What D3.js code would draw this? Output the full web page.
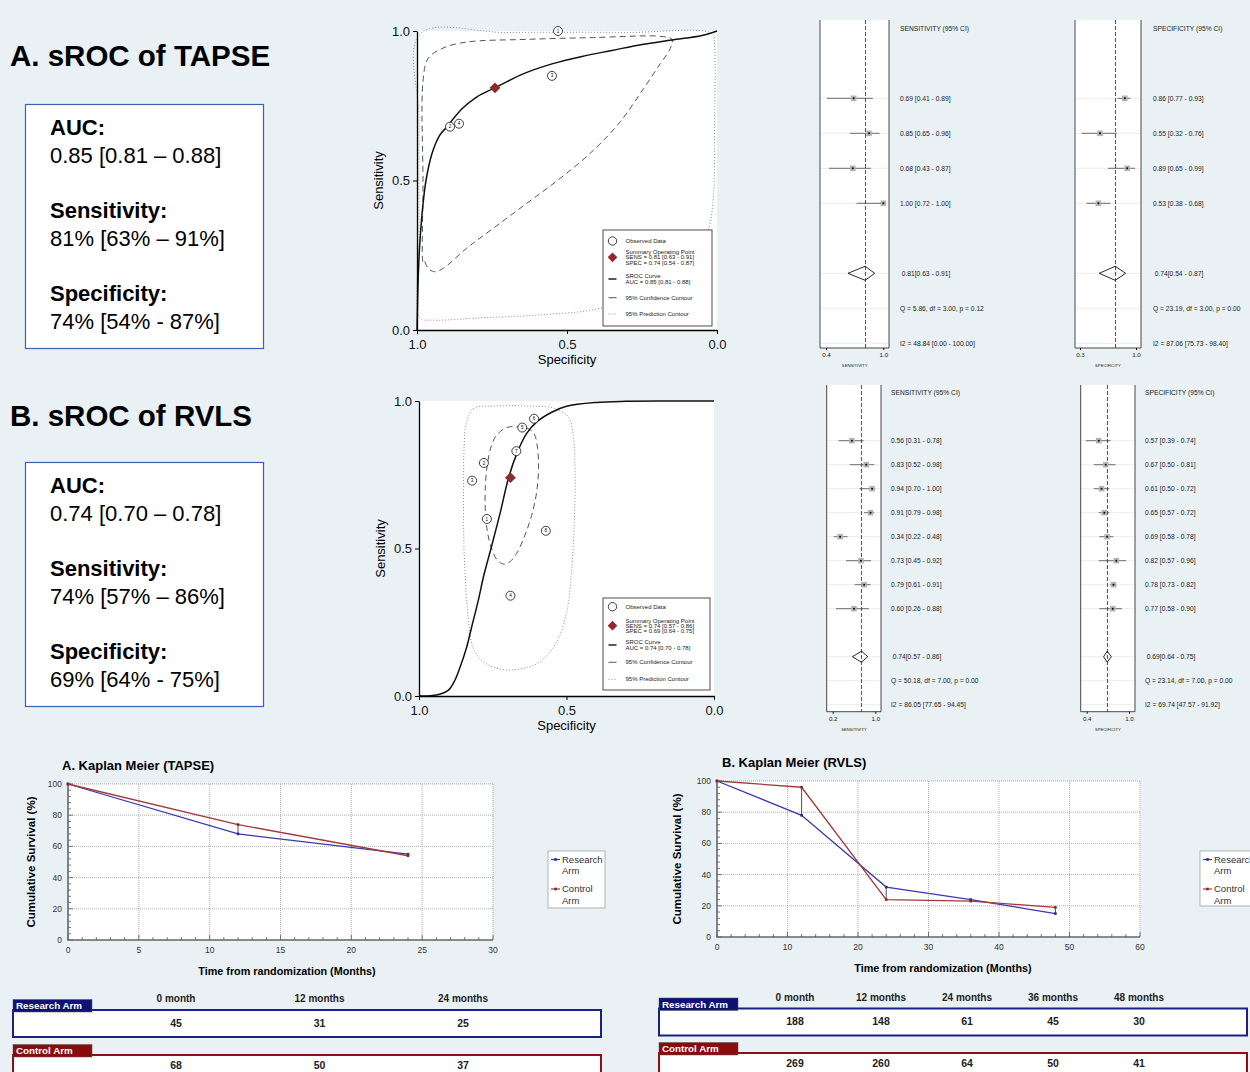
<!DOCTYPE html>
<html>
<head>
<meta charset="utf-8">
<title>sROC and Kaplan Meier</title>
<script src="https://cdn.jsdelivr.net/npm/d3@7"></script>
<style>
  body { margin: 0; background: #e9f1f4; }
  svg { display: block; font-family: "Liberation Sans", Arial, sans-serif; }
</style>
</head>
<body>
<svg width="1250" height="1072" id="mainsvg"></svg>
<script>
// ---------- data ----------
const summaryLabels = ['AUC:', 'Sensitivity:', 'Specificity:'];
const summaryA = ['0.85 [0.81 \u2013 0.88]', '81% [63% \u2013 91%]', '74% [54% - 87%]'];
const summaryB = ['0.74 [0.70 \u2013 0.78]', '74% [57% \u2013 86%]', '69% [64% - 75%]'];

// sROC A (TAPSE)
const obsSpecA = [0.53, 0.89, 0.55, 0.86];
const obsSensA = [1.00, 0.68, 0.85, 0.69];
const obsLabelA = ['1', '2', '3', '4'];
const sumPointA = [0.74, 0.81];
const curveSpecA = [1, 0.995, 0.99, 0.98, 0.97, 0.95, 0.925, 0.9, 0.85, 0.8, 0.74, 0.65, 0.55, 0.45, 0.35, 0.25, 0.15, 0.05, 0];
const curveSensA = [0, 0.2, 0.3, 0.42, 0.5, 0.59, 0.65, 0.68, 0.74, 0.78, 0.81, 0.855, 0.89, 0.915, 0.935, 0.955, 0.97, 0.985, 1];
const confSpecA = [0.98, 0.98, 0.98, 0.963, 0.913, 0.835, 0.635, 0.412, 0.189, 0.15, 0.156, 0.189, 0.245, 0.323, 0.412, 0.523, 0.635, 0.746, 0.835, 0.913, 0.941, 0.963, 0.977];
const confSensA = [0.228, 0.496, 0.83, 0.908, 0.943, 0.963, 0.972, 0.978, 0.982, 0.972, 0.941, 0.891, 0.807, 0.696, 0.601, 0.507, 0.423, 0.34, 0.273, 0.206, 0.195, 0.206, 0.234];
const predSpecA = [0.99, 0.7, 0.3, 0.015, 0.008, 0.008, 0.012, 0.03, 0.1, 0.25, 0.4, 0.6, 0.8, 0.95, 0.99, 0.993, 0.993];
const predSensA = [0.99, 0.995, 0.995, 0.99, 0.95, 0.7, 0.45, 0.33, 0.2, 0.12, 0.07, 0.05, 0.04, 0.033, 0.04, 0.3, 0.7];
const legendA = ['Observed Data', 'Summary Operating Point', 'SENS = 0.81 [0.63 - 0.91]', 'SPEC = 0.74 [0.54 - 0.87]',
  'SROC Curve', 'AUC = 0.85 [0.81 - 0.88]', '95% Confidence Contour', '95% Prediction Contour'];

// sROC B (RVLS)
const obsSpecB = [0.61, 0.65, 0.67, 0.78, 0.82, 0.77, 0.57, 0.69];
const obsSensB = [0.94, 0.91, 0.83, 0.79, 0.73, 0.60, 0.56, 0.34];
const obsLabelB = ['6', '5', '7', '2', '3', '1', '8', '4'];
const sumPointB = [0.69, 0.74];
const curveSpecB = [1, 0.96, 0.93, 0.9, 0.88, 0.86, 0.84, 0.82, 0.8, 0.78, 0.756, 0.725, 0.695, 0.665, 0.635, 0.6, 0.55, 0.5, 0.4, 0.3, 0.15, 0];
const curveSensB = [0, 0.001, 0.006, 0.02, 0.05, 0.1, 0.16, 0.24, 0.32, 0.41, 0.5, 0.62, 0.745, 0.83, 0.89, 0.93, 0.962, 0.982, 0.995, 0.999, 1, 1];
const confSpecB = [0.737, 0.703, 0.669, 0.635, 0.61, 0.598, 0.595, 0.601, 0.618, 0.641, 0.669, 0.692, 0.712, 0.734, 0.754, 0.768, 0.775, 0.775, 0.767, 0.754];
const confSensB = [0.884, 0.91, 0.913, 0.909, 0.889, 0.839, 0.771, 0.692, 0.613, 0.545, 0.483, 0.455, 0.447, 0.46, 0.5, 0.556, 0.624, 0.714, 0.793, 0.85];
const predSpecB = [0.841, 0.816, 0.748, 0.635, 0.545, 0.494, 0.477, 0.471, 0.473, 0.482, 0.499, 0.533, 0.59, 0.658, 0.725, 0.782, 0.816, 0.833, 0.847, 0.849, 0.847];
const predSensB = [0.918, 0.974, 0.983, 0.983, 0.976, 0.946, 0.884, 0.771, 0.602, 0.432, 0.286, 0.184, 0.116, 0.091, 0.091, 0.116, 0.161, 0.263, 0.489, 0.714, 0.849];
const legendB = ['Observed Data', 'Summary Operating Point', 'SENS = 0.74 [0.57 - 0.86]', 'SPEC = 0.69 [0.64 - 0.75]',
  'SROC Curve', 'AUC = 0.74 [0.70 - 0.78]', '95% Confidence Contour', '95% Prediction Contour'];

// forest plots
const sensEstA = [0.69, 0.85, 0.68, 1.00], sensLoA = [0.41, 0.65, 0.43, 0.72], sensHiA = [0.89, 0.96, 0.87, 1.00];
const sensPoolA = [0.81, 0.63, 0.91];
const sensStatsA = ['Q =  5.86, df = 3.00, p =  0.12', 'I2 = 48.84 [0.00 - 100.00]'];
const specEstA = [0.86, 0.55, 0.89, 0.53], specLoA = [0.77, 0.32, 0.65, 0.38], specHiA = [0.93, 0.76, 0.99, 0.68];
const specPoolA = [0.74, 0.54, 0.87];
const specStatsA = ['Q = 23.19, df = 3.00, p =  0.00', 'I2 = 87.06 [75.73 - 98.40]'];

const sensEstB = [0.56, 0.83, 0.94, 0.91, 0.34, 0.73, 0.79, 0.60];
const sensLoB = [0.31, 0.52, 0.70, 0.79, 0.22, 0.45, 0.61, 0.26];
const sensHiB = [0.78, 0.98, 1.00, 0.98, 0.48, 0.92, 0.91, 0.88];
const sensPoolB = [0.74, 0.57, 0.86];
const sensStatsB = ['Q = 50.18, df = 7.00, p =  0.00', 'I2 = 86.05 [77.65 - 94.45]'];
const specEstB = [0.57, 0.67, 0.61, 0.65, 0.69, 0.82, 0.78, 0.77];
const specLoB = [0.39, 0.50, 0.50, 0.57, 0.58, 0.57, 0.73, 0.58];
const specHiB = [0.74, 0.81, 0.72, 0.72, 0.78, 0.96, 0.82, 0.90];
const specPoolB = [0.69, 0.64, 0.75];
const specStatsB = ['Q = 23.14, df = 7.00, p =  0.00', 'I2 = 69.74 [47.57 - 91.92]'];

// Kaplan Meier
const kmMonthsA = [0, 12, 24];
const kmResearchA = [100, 68, 55];
const kmControlA = [100, 74, 54];
const kmMonthsB = [0, 12, 24, 36, 48];
const kmResearchB = [100, 78, 32, 24, 15];
const kmControlB = [100, 96, 24, 23, 19];

// numbers at risk
const riskHeadA = ['0 month', '12 months', '24 months'];
const riskResearchA = [45, 31, 25];
const riskControlA = [68, 50, 37];
const riskHeadB = ['0 month', '12 months', '24 months', '36 months', '48 months'];
const riskResearchB = [188, 148, 61, 45, 30];
const riskControlB = [269, 260, 64, 50, 41];

// ---------- drawing ----------
const svg = d3.select('#mainsvg');
const width = +svg.attr('width');
const height = +svg.attr('height');
svg.append('rect').attr('width', width).attr('height', height).attr('fill', '#e9f1f4');

const blue = '#3939b0', red = '#a23a3c', diamondRed = '#8e2a30';
const f2 = d3.format('.2f');

// left summary boxes
function drawSummary(title, titleY, boxTop, rowY, values) {
    svg.append('text').attr('x', 10).attr('y', titleY)
        .attr('font-size', 29.5).attr('font-weight', 'bold').text(title);
    svg.append('rect').attr('x', 25.5).attr('y', boxTop).attr('width', 238).attr('height', 244)
        .attr('fill', '#fff').attr('stroke', '#3d62ad').attr('stroke-width', 1.2);
    summaryLabels.forEach((lab, i) => {
        svg.append('text').attr('x', 50).attr('y', rowY + i * 83)
            .attr('font-size', 22).attr('font-weight', 'bold').text(lab);
        svg.append('text').attr('x', 50).attr('y', rowY + i * 83 + 28)
            .attr('font-size', 22).text(values[i]);
    });
}
drawSummary('A. sROC of TAPSE', 65.5, 104.5, 135, summaryA);
drawSummary('B. sROC of RVLS', 425.5, 462.5, 493, summaryB);

// sROC panels
function drawSroc(c) {
    const x = d3.scaleLinear().domain([1, 0]).range([c.left, c.right]);
    const y = d3.scaleLinear().domain([0, 1]).range([c.bottom, c.top]);
    const g = svg.append('g');
    g.append('rect').attr('x', c.left).attr('y', c.top)
        .attr('width', c.right - c.left).attr('height', c.bottom - c.top).attr('fill', '#fff');

    const closed = d3.line().x(d => x(d[0])).y(d => y(d[1])).curve(d3.curveCatmullRomClosed.alpha(0.5));
    const open = d3.line().x(d => x(d[0])).y(d => y(d[1])).curve(d3.curveCatmullRom.alpha(0.5));

    g.append('path').datum(d3.zip(c.predSpec, c.predSens)).attr('d', closed)
        .attr('fill', 'none').attr('stroke', '#8c8c8c').attr('stroke-width', 1).attr('stroke-dasharray', '1,2');
    g.append('path').datum(d3.zip(c.confSpec, c.confSens)).attr('d', closed)
        .attr('fill', 'none').attr('stroke', '#555').attr('stroke-width', 1).attr('stroke-dasharray', '6,4');
    g.append('path').datum(d3.zip(c.curveSpec, c.curveSens)).attr('d', open)
        .attr('fill', 'none').attr('stroke', '#111').attr('stroke-width', 1.5);

    const pts = d3.zip(c.obsSpec, c.obsSens, c.obsLabel);
    g.selectAll('.obs').data(pts).join('circle').attr('class', 'obs')
        .attr('cx', d => x(d[0])).attr('cy', d => y(d[1])).attr('r', 4.5)
        .attr('fill', '#fff').attr('stroke', '#111').attr('stroke-width', 0.8);
    g.selectAll('.obsLab').data(pts).join('text').attr('class', 'obsLab')
        .attr('x', d => x(d[0])).attr('y', d => y(d[1]) + 1.6)
        .attr('text-anchor', 'middle').attr('font-size', 4.5).text(d => d[2]);

    g.append('path').attr('d', d3.symbol(d3.symbolDiamond2, 75)())
        .attr('transform', `translate(${x(c.sumPoint[0])},${y(c.sumPoint[1])})`).attr('fill', diamondRed);

    const yAxis = d3.axisLeft(y).tickValues([0, 0.5, 1]).tickFormat(d3.format('.1f')).tickSize(4).tickSizeOuter(0).tickPadding(3);
    const xAxis = d3.axisBottom(x).tickValues([1, 0.5, 0]).tickFormat(d3.format('.1f')).tickSize(4).tickSizeOuter(0).tickPadding(6);
    const ya = g.append('g').attr('transform', `translate(${c.left},0)`).call(yAxis);
    const xa = g.append('g').attr('transform', `translate(0,${c.bottom})`).call(xAxis);
    [ya, xa].forEach(a => {
        a.select('.domain').attr('stroke', '#000').attr('stroke-width', 1.3);
        a.selectAll('.tick text').attr('font-size', 13).attr('fill', '#111')
            .attr('font-family', '"Liberation Sans", Arial, sans-serif');
    });
    g.append('text').attr('x', (c.left + c.right) / 2).attr('y', c.xTitleY)
        .attr('text-anchor', 'middle').attr('font-size', 13).text('Specificity');
    g.append('text').attr('transform', `translate(${c.yTitleX},${(c.top + c.bottom) / 2}) rotate(-90)`)
        .attr('text-anchor', 'middle').attr('font-size', 13).text('Sensitivity');

    // legend
    const L = c.legend;
    const lg = g.append('g');
    lg.append('rect').attr('x', L.x).attr('y', L.y).attr('width', L.w).attr('height', L.h)
        .attr('fill', '#fff').attr('stroke', '#222').attr('stroke-width', 0.8);
    const sx = L.x + 9.5, tx = L.x + 22.5, fs = 6;
    const line = (yy, txt) => lg.append('text').attr('x', tx).attr('y', yy + 2.1).attr('font-size', fs).attr('fill', '#222').text(txt);
    lg.append('circle').attr('cx', sx).attr('cy', L.rows[0]).attr('r', 4.2).attr('fill', '#fff').attr('stroke', '#111').attr('stroke-width', 0.8);
    line(L.rows[0], c.legendText[0]);
    lg.append('path').attr('d', d3.symbol(d3.symbolDiamond2, 60)()).attr('transform', `translate(${sx},${L.rows[1]})`).attr('fill', diamondRed);
    line(L.rows[1] - 5.2, c.legendText[1]);
    line(L.rows[1], c.legendText[2]);
    line(L.rows[1] + 5.2, c.legendText[3]);
    lg.append('line').attr('x1', sx - 4).attr('x2', sx + 4).attr('y1', L.rows[2]).attr('y2', L.rows[2]).attr('stroke', '#111').attr('stroke-width', 1.4);
    line(L.rows[2] - 3.5, c.legendText[4]);
    line(L.rows[2] + 3, c.legendText[5]);
    lg.append('line').attr('x1', sx - 4).attr('x2', sx + 4).attr('y1', L.rows[3]).attr('y2', L.rows[3]).attr('stroke', '#555').attr('stroke-width', 1);
    line(L.rows[3], c.legendText[6]);
    lg.append('line').attr('x1', sx - 4).attr('x2', sx + 4).attr('y1', L.rows[4]).attr('y2', L.rows[4]).attr('stroke', '#8c8c8c').attr('stroke-width', 1).attr('stroke-dasharray', '1,2');
    line(L.rows[4], c.legendText[7]);
}

drawSroc({
    left: 417, right: 717, top: 31, bottom: 330, xTitleY: 364, yTitleX: 382.5,
    obsSpec: obsSpecA, obsSens: obsSensA, obsLabel: obsLabelA, sumPoint: sumPointA,
    curveSpec: curveSpecA, curveSens: curveSensA, confSpec: confSpecA, confSens: confSensA,
    predSpec: predSpecA, predSens: predSensA, legendText: legendA,
    legend: { x: 603, y: 230, w: 109, h: 96, rows: [241, 257.3, 279, 297.7, 314] }
});
drawSroc({
    left: 419, right: 714, top: 401, bottom: 696, xTitleY: 729.5, yTitleX: 384.5,
    obsSpec: obsSpecB, obsSens: obsSensB, obsLabel: obsLabelB, sumPoint: sumPointB,
    curveSpec: curveSpecB, curveSens: curveSensB, confSpec: confSpecB, confSens: confSensB,
    predSpec: predSpecB, predSens: predSensB, legendText: legendB,
    legend: { x: 603, y: 598, w: 107, h: 92, rows: [606.7, 625.7, 645, 662.3, 679.3] }
});

// forest plots
function drawForest(c) {
    const x = d3.scaleLinear().domain(c.ticks).range(c.tickPx);
    const n = c.est.length;
    const row = i => c.row0 + i * c.step;
    const g = svg.append('g');
    g.append('rect').attr('x', c.left).attr('y', c.top).attr('width', c.right - c.left)
        .attr('height', c.bottom - c.top).attr('fill', '#fff');
    const gridRows = d3.range(n).concat([n + 1, n + 2, n + 3]);
    g.selectAll('.grid').data(gridRows).join('line').attr('class', 'grid')
        .attr('x1', c.left).attr('x2', c.right).attr('y1', row).attr('y2', row)
        .attr('stroke', '#e4e8ea').attr('stroke-width', 0.8);
    [c.left, c.right].forEach(px => g.append('line').attr('x1', px).attr('x2', px)
        .attr('y1', c.top).attr('y2', c.bottom).attr('stroke', '#333').attr('stroke-width', 0.9));
    const px0 = Math.round(x(c.pool[0])) + 0.5;
    g.append('line').attr('x1', px0).attr('x2', px0).attr('y1', c.top).attr('y2', c.bottom)
        .attr('stroke', '#d0223f').attr('stroke-width', 1.1).attr('stroke-dasharray', '4,2');

    const rows = d3.range(n).map(i => [c.est[i], c.lo[i], c.hi[i], i]);
    g.selectAll('.ci').data(rows).join('line').attr('class', 'ci')
        .attr('x1', d => x(d[1])).attr('x2', d => x(d[2])).attr('y1', d => row(d[3])).attr('y2', d => row(d[3]))
        .attr('stroke', '#333').attr('stroke-width', 0.7);
    g.selectAll('.sq').data(rows).join('rect').attr('class', 'sq')
        .attr('x', d => x(d[0]) - 2.8).attr('y', d => row(d[3]) - 2.8).attr('width', 5.6).attr('height', 5.6)
        .attr('fill', '#b4b4b4');
    g.selectAll('.dot').data(rows).join('circle').attr('class', 'dot')
        .attr('cx', d => x(d[0])).attr('cy', d => row(d[3])).attr('r', 1).attr('fill', '#000');

    const yd = row(n + 1), hh = c.dh;
    g.append('path')
        .attr('d', `M${x(c.pool[1])},${yd}L${x(c.pool[0])},${yd - hh}L${x(c.pool[2])},${yd}L${x(c.pool[0])},${yd + hh}Z`)
        .attr('fill', 'none').attr('stroke', '#111').attr('stroke-width', 0.9);

    const fs = 6.7;
    g.append('text').attr('x', c.textX).attr('y', row(-2) + 2.3).attr('font-size', fs).attr('fill', '#222').text(c.header);
    g.selectAll('.val').data(rows).join('text').attr('class', 'val')
        .attr('x', c.textX).attr('y', d => row(d[3]) + 2.3).attr('font-size', fs).attr('fill', '#222')
        .text(d => `${f2(d[0])} [${f2(d[1])} - ${f2(d[2])}]`);
    g.append('text').attr('x', c.textX + 1.7).attr('y', yd + 2.3).attr('font-size', fs).attr('fill', '#222')
        .text(`${f2(c.pool[0])}[${f2(c.pool[1])} - ${f2(c.pool[2])}]`);
    g.append('text').attr('x', c.textX).attr('y', row(n + 2) + 2.3).attr('font-size', fs).attr('fill', '#222').text(c.stats[0]);
    g.append('text').attr('x', c.textX).attr('y', row(n + 3) + 2.3).attr('font-size', fs).attr('fill', '#222').text(c.stats[1]);

    const axis = d3.axisBottom(x).tickValues(c.ticks).tickFormat(d3.format('.1f')).tickSize(2).tickSizeOuter(0).tickPadding(3);
    const ax = g.append('g').attr('transform', `translate(0,${c.bottom})`).call(axis);
    ax.select('.domain').attr('d', `M${c.left},0H${c.right}`).attr('stroke', '#333').attr('stroke-width', 0.9);
    ax.selectAll('.tick text').attr('font-size', 6.2).attr('fill', '#222')
        .attr('font-family', '"Liberation Sans", Arial, sans-serif');
    g.append('text').attr('x', (c.tickPx[0] + c.tickPx[1]) / 2).attr('y', c.bottom + 19)
        .attr('text-anchor', 'middle').attr('font-size', 4.2).attr('fill', '#222').text(c.axisLabel);
}

drawForest({ left: 820, right: 889, top: 20, bottom: 348, ticks: [0.4, 1.0], tickPx: [826, 883.3],
    row0: 98.3, step: 35, dh: 7, textX: 900, header: 'SENSITIVITY (95% CI)', axisLabel: 'SENSITIVITY',
    est: sensEstA, lo: sensLoA, hi: sensHiA, pool: sensPoolA, stats: sensStatsA });
drawForest({ left: 1075, right: 1141, top: 20, bottom: 348, ticks: [0.3, 1.0], tickPx: [1080, 1136],
    row0: 98.3, step: 35, dh: 7, textX: 1153, header: 'SPECIFICITY (95% CI)', axisLabel: 'SPECIFICITY',
    est: specEstA, lo: specLoA, hi: specHiA, pool: specPoolA, stats: specStatsA });
drawForest({ left: 826.7, right: 881, top: 385, bottom: 711.7, ticks: [0.2, 1.0], tickPx: [832.7, 875.3],
    row0: 440.7, step: 24, dh: 5.5, textX: 891, header: 'SENSITIVITY (95% CI)', axisLabel: 'SENSITIVITY',
    est: sensEstB, lo: sensLoB, hi: sensHiB, pool: sensPoolB, stats: sensStatsB });
drawForest({ left: 1080.7, right: 1135, top: 385, bottom: 711.7, ticks: [0.4, 1.0], tickPx: [1086.7, 1129],
    row0: 440.7, step: 24, dh: 5.5, textX: 1145, header: 'SPECIFICITY (95% CI)', axisLabel: 'SPECIFICITY',
    est: specEstB, lo: specLoB, hi: specHiB, pool: specPoolB, stats: specStatsB });

// Kaplan Meier panels
function drawKM(c) {
    const x = d3.scaleLinear().domain([0, c.xMax]).range([c.left, c.right]);
    const y = d3.scaleLinear().domain([0, 100]).range([c.bottom, c.top]);
    const g = svg.append('g');
    g.append('text').attr('x', c.titleX).attr('y', c.titleY).attr('font-size', 13).attr('font-weight', 'bold').text(c.title);
    g.append('rect').attr('x', c.left).attr('y', c.top).attr('width', c.right - c.left)
        .attr('height', c.bottom - c.top).attr('fill', '#fff');

    const xTicks = d3.range(0, c.xMax + 0.01, c.xStep);
    const yTicks = d3.range(0, 101, 20);
    g.selectAll('.vg').data(xTicks.slice(1)).join('line').attr('class', 'vg')
        .attr('x1', x).attr('x2', x).attr('y1', c.top).attr('y2', c.bottom)
        .attr('stroke', '#9a9a9a').attr('stroke-width', 0.8).attr('stroke-dasharray', '1,1');
    g.selectAll('.hg').data(yTicks.slice(1)).join('line').attr('class', 'hg')
        .attr('x1', c.left).attr('x2', c.right).attr('y1', y).attr('y2', y)
        .attr('stroke', '#9a9a9a').attr('stroke-width', 0.8).attr('stroke-dasharray', '1,1');

    // minor and major ticks pointing inward
    const xMinor = d3.range(0, c.xMax + 0.01, c.xMinor);
    const yMinor = d3.range(0, 101, 4);
    g.selectAll('.xm').data(xMinor).join('line').attr('class', 'xm')
        .attr('x1', x).attr('x2', x).attr('y1', c.bottom).attr('y2', d => c.bottom - (d % c.xStep === 0 ? 5 : 3))
        .attr('stroke', '#555').attr('stroke-width', 0.8);
    g.selectAll('.ym').data(yMinor).join('line').attr('class', 'ym')
        .attr('y1', y).attr('y2', y).attr('x1', c.left).attr('x2', d => c.left + (d % 20 === 0 ? 5 : 3))
        .attr('stroke', '#555').attr('stroke-width', 0.8);
    g.append('path').attr('d', `M${c.left},${c.top}V${c.bottom}H${c.right}`)
        .attr('fill', 'none').attr('stroke', '#666').attr('stroke-width', 1.6);

    g.selectAll('.xl').data(xTicks).join('text').attr('class', 'xl')
        .attr('x', x).attr('y', c.bottom + 13).attr('text-anchor', 'middle').attr('font-size', 8.5).attr('fill', '#333').text(d => d);
    g.selectAll('.yl').data(yTicks).join('text').attr('class', 'yl')
        .attr('x', c.left - 6).attr('y', d => y(d) + 3).attr('text-anchor', 'end').attr('font-size', 8.5).attr('fill', '#333').text(d => d);
    g.append('text').attr('x', c.xTitleX).attr('y', c.bottom + 35).attr('text-anchor', 'middle')
        .attr('font-size', 10.8).attr('font-weight', 'bold').text('Time from randomization (Months)');
    g.append('text').attr('transform', `translate(${c.yTitleX},${(c.top + c.bottom) / 2}) rotate(-90)`)
        .attr('text-anchor', 'middle').attr('font-size', 11.5).attr('font-weight', 'bold').text('Cumulative  Survival  (%)');

    // connectors between arms
    const pairs = d3.zip(c.months, c.research, c.control).slice(1);
    g.selectAll('.conn').data(pairs).join('line').attr('class', 'conn')
        .attr('x1', d => x(d[0])).attr('x2', d => x(d[0])).attr('y1', d => y(d[1])).attr('y2', d => y(d[2]))
        .attr('stroke', '#222').attr('stroke-width', 0.8);

    const line = d3.line().x(d => x(d[0])).y(d => y(d[1]));
    [[c.research, blue], [c.control, red]].forEach(([vals, col]) => {
        const pts = d3.zip(c.months, vals);
        g.append('path').datum(pts).attr('d', line).attr('fill', 'none').attr('stroke', col).attr('stroke-width', 1.3);
        g.selectAll(null).data(pts).join('rect')
            .attr('x', d => x(d[0]) - 1.3).attr('y', d => y(d[1]) - 1.3).attr('width', 2.6).attr('height', 2.6)
            .attr('fill', d3.color(col).darker(0.8));
    });

    // legend
    const L = c.legend;
    g.append('rect').attr('x', L.x).attr('y', L.y).attr('width', L.w).attr('height', L.h)
        .attr('fill', '#fff').attr('stroke', '#a0a0a0').attr('stroke-width', 0.8);
    [['Research', blue, L.y + 8.5], ['Control', red, L.y + 38]].forEach(([name, col, yy]) => {
        g.append('line').attr('x1', L.x + 3).attr('x2', L.x + 12).attr('y1', yy).attr('y2', yy).attr('stroke', col).attr('stroke-width', 1.2);
        g.append('rect').attr('x', L.x + 6.2).attr('y', yy - 1.3).attr('width', 2.6).attr('height', 2.6).attr('fill', d3.color(col).darker(0.8));
        g.append('text').attr('x', L.x + 14).attr('y', yy + 3.3).attr('font-size', 9.5).attr('fill', '#333').text(name);
        g.append('text').attr('x', L.x + 14).attr('y', yy + 14.8).attr('font-size', 9.5).attr('fill', '#333').text('Arm');
    });
}

drawKM({ left: 68, right: 493, top: 784, bottom: 940, xMax: 30, xStep: 5, xMinor: 1,
    title: 'A. Kaplan Meier (TAPSE)', titleX: 62, titleY: 770, xTitleX: 287, yTitleX: 35,
    months: kmMonthsA, research: kmResearchA, control: kmControlA,
    legend: { x: 548, y: 851, w: 57, h: 57 } });
drawKM({ left: 717, right: 1140, top: 781, bottom: 937, xMax: 60, xStep: 10, xMinor: 2,
    title: 'B. Kaplan Meier (RVLS)', titleX: 722, titleY: 767, xTitleX: 943, yTitleX: 681,
    months: kmMonthsB, research: kmResearchB, control: kmControlB,
    legend: { x: 1200, y: 851, w: 70, h: 55 } });

// number-at-risk tables
function drawRisk(c) {
    const g = svg.append('g');
    const col = d3.scalePoint().domain(d3.range(c.head.length)).range(c.colRange);
    g.selectAll('.hd').data(c.head).join('text').attr('class', 'hd')
        .attr('x', (d, i) => col(i)).attr('y', c.headY).attr('text-anchor', 'middle')
        .attr('font-size', 10).attr('font-weight', 'bold').attr('fill', '#222').text(d => d);
    [[c.research, '#1b1f86', '#0e1276', 'Research Arm', c.rTop, 16.5], [c.control, '#8e0f12', '#8a0b0d', 'Control Arm', c.cTop, 14.3]]
        .forEach(([vals, border, tab, name, top, off]) => {
            g.append('rect').attr('x', c.x).attr('y', top).attr('width', c.w).attr('height', 27)
                .attr('fill', '#fff').attr('stroke', border).attr('stroke-width', 2);
            g.append('rect').attr('x', c.x).attr('y', top - 10.5).attr('width', 79).attr('height', 12.5)
                .attr('fill', tab).attr('stroke', '#555').attr('stroke-width', 0.5);
            g.append('text').attr('x', c.x + 3).attr('y', top - 1).attr('font-size', 9.8).attr('font-weight', 'bold')
                .attr('fill', '#fff').text(name);
            g.selectAll(null).data(vals).join('text')
                .attr('x', (d, i) => col(i)).attr('y', top + off).attr('text-anchor', 'middle')
                .attr('font-size', 10.5).attr('font-weight', 'bold').attr('fill', '#222').text(d => d);
        });
}
drawRisk({ x: 13, w: 588, rTop: 1010, cTop: 1055, headY: 1002, colRange: [176, 463],
    head: riskHeadA, research: riskResearchA, control: riskControlA });
drawRisk({ x: 659, w: 588, rTop: 1008.5, cTop: 1053, headY: 1001, colRange: [795, 1139],
    head: riskHeadB, research: riskResearchB, control: riskControlB });
</script>
</body>
</html>
